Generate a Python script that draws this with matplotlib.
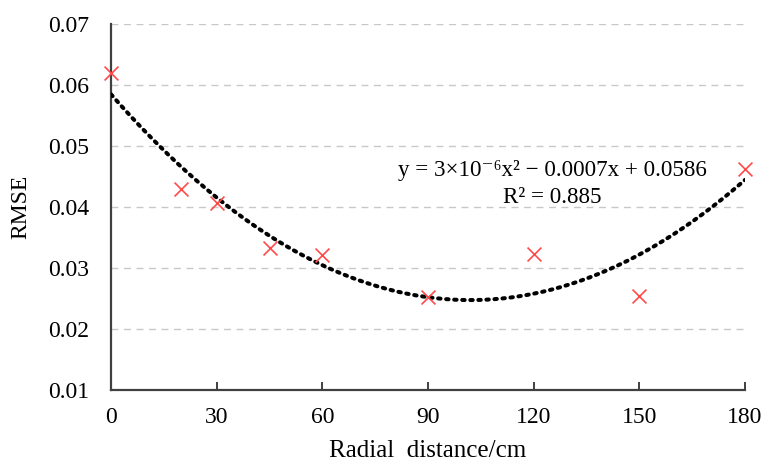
import numpy as np
import matplotlib
matplotlib.use("Agg")
import matplotlib.pyplot as plt

plt.rcParams['font.family'] = ['Liberation Serif', 'DejaVu Serif']

# radial distance (cm) and RMSE values
distance = [0, 20, 30, 45, 60, 90, 120, 150, 180]
rmse = [0.0619, 0.0429, 0.0406, 0.0332, 0.0322, 0.0252, 0.0323, 0.0254, 0.0463]

x_ticks = [0, 30, 60, 90, 120, 150, 180]
y_ticks = [0.01, 0.02, 0.03, 0.04, 0.05, 0.06, 0.07]

equation = "y = 3×10⁻⁶x² − 0.0007x + 0.0586"
r2_text = "R² = 0.885"

# polynomial trendline (2nd order)
coef = np.polyfit(distance, rmse, 2)
xs = np.linspace(0, 180, 200)
ys = np.polyval(coef, xs)

fig = plt.figure(figsize=(7.65, 4.69), dpi=100)
ax = fig.add_axes([0.1451, 0.1684, 0.8288, 0.7804])

ax.plot(xs, ys, color='black', linestyle=(0, (0.6, 1.4)), linewidth=2.9,
        dash_capstyle='round', zorder=3)
ax.scatter(distance, rmse, marker='x', color='#ff4a4a', s=100, linewidths=1.2,
           zorder=4, clip_on=False)

ax.set_xlim(0, 180)
ax.set_ylim(0.01, 0.07)
ax.set_xticks(x_ticks)
ax.set_yticks(y_ticks)
ax.set_yticklabels([f"{v:.2f}" for v in y_ticks])

ax.grid(axis='y', color='#c8c8c8', linestyle=(0, (5, 4)), linewidth=1.0)
ax.set_axisbelow(True)

for s in ['top', 'right']:
    ax.spines[s].set_visible(False)
for s in ['left', 'bottom']:
    ax.spines[s].set_color('#404040')
    ax.spines[s].set_linewidth(1.6)

ax.tick_params(axis='x', direction='in', length=6, width=1.4, color='#404040',
               labelsize=17, pad=12)
ax.tick_params(axis='y', length=0, labelsize=17, pad=16)

ax.set_xlabel("Radial  distance/cm", fontsize=18, labelpad=9)
ax.set_ylabel("RMSE", fontsize=17, labelpad=12)

ax.text(125.2, 0.0460, equation, fontsize=16.6, ha='center', va='center')
ax.text(125.2, 0.0416, r2_text, fontsize=16.6, ha='center', va='center')

fig.savefig("out.png", dpi=100)
